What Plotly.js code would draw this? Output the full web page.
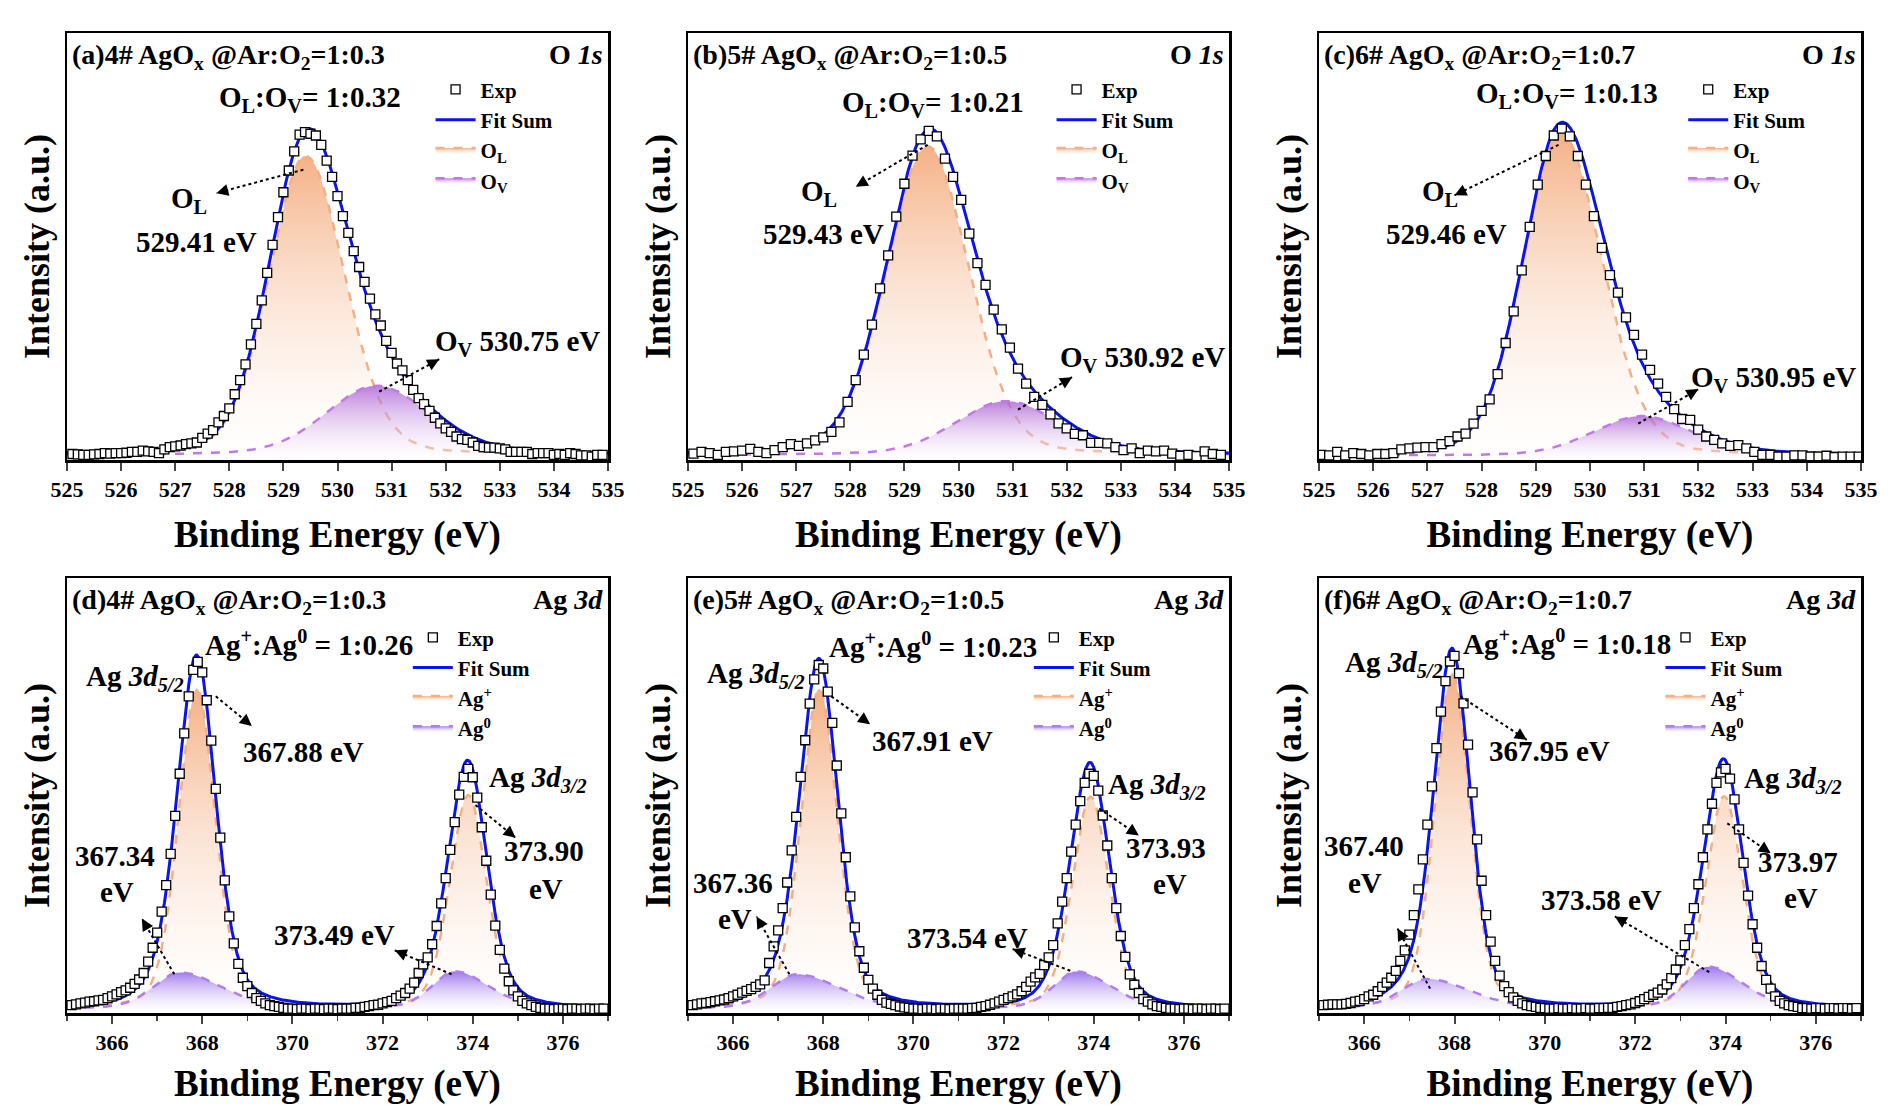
<!DOCTYPE html>
<html><head><meta charset="utf-8">
<script src="https://cdn.plot.ly/plotly-3.0.1.min.js"></script>
<style>body{margin:0;background:#fff}#g{width:1889px;height:1105px}</style>
</head><body><div id="g"></div>
<script>
// ---------- DATA ----------
// O 1s experimental points
const a_expStart = 525.1, a_expStep = 0.1;
const a_exp = [1.4,1.3,1.2,1.2,1.3,1.4,1.6,1.5,1.6,1.6,1.7,1.9,1.9,2.2,2.0,1.9,1.6,2.5,3.0,3.2,3.4,3.7,3.9,4.1,5.2,6.2,7.0,8.8,
10.3,12.1,15.4,18.7,22.4,27.1,31.9,37.4,43.8,50.4,56.9,62.7,67.8,72.3,76.2,76.8,76.4,76.0,73.8,70.1,66.3,61.8,57.1,53.2,48.9,45.2,41.7,37.8,34.1,31.5,27.9,25.1,22.6,21.0,18.7,16.4,14.5,13.1,11.5,9.9,8.6,7.4,6.6,5.5,4.9,4.7,4.1,3.3,3.0,2.9,2.9,2.7,2.5,1.9,1.9,1.9,1.9,1.4,1.6,1.6,1.6,1.2,1.4,1.2,1.6,1.4,1.1,1.1,0.8,1.2,1.2];
const b_expStart = 525.1, b_expStep = 0.15;
const b_exp = [1.5,1.9,1.6,1.2,1.9,2.0,2.2,2.6,1.9,1.6,2.3,3.0,3.7,3.3,3.9,4.6,5.3,6.6,8.8,
13.6,18.7,24.7,31.7,40.2,47.9,57.0,64.7,71.3,75.1,77.1,75.8,70.6,66.3,60.9,53.0,46.1,41.0,35.2,30.6,26.3,21.4,17.9,14.8,12.9,10.7,8.6,7.4,6.1,5.8,4.0,4.0,3.9,3.0,2.3,2.7,1.6,
2.2,2.0,2.2,1.5,1.0,1.2,0.9,2.0,1.4,1.2];
const c_expStart = 525.04, c_expStep = 0.148;
const c_exp = [1.2,1.1,1.9,1.1,1.6,1.4,1.1,1.4,1.4,1.6,2.5,2.7,2.9,3.0,3.0,3.7,4.4,5.5,6.2,8.5,11.5,14.2,20.1,27.4,34.8,44.4,54.6,64.5,71.2,76.0,77.6,75.8,71.2,64.5,57.1,49.7,43.3,39.2,33.4,29.3,24.7,21.1,17.9,14.8,11.9,9.6,9.4,7.1,5.5,4.7,3.9,3.3,3.5,2.7,1.9,1.2,1.2,0.8,0.8,1.1,1.1,0.8,0.8,1.0,0.7,0.8,0.8,0.8];
// Ag 3d experimental points (start 365.1, step 0.1)
const d_expStart = 365.1, d_expStep = 0.1;
const d_exp = [1.8,2.0,2.2,2.4,2.6,2.7,2.9,3.0,3.4,3.8,4.3,4.8,5.2,5.8,6.7,7.7,9.2,11.8,15.0,18.5,23.3,29.4,36.6,45.3,55.0,64.3,72.8,78.9,80.7,78.3,71.9,62.6,51.5,40.3,30.5,22.2,16.0,11.3,8.1,6.2,4.6,3.4,2.8,2.2,1.8,1.6,1.4,1.2,1.0,
1.0,0.9,1.0,1.0,0.9,1.0,1.0,0.9,1.0,1.0,0.9,1.0,1.0,
1.0,1.2,1.2,1.4,1.6,1.8,1.9,2.2,2.5,2.8,3.4,4.0,4.6,5.6,7.0,9.2,11.2,12.8,15.8,20.0,25.2,31.0,37.5,43.9,50.2,54.3,56.1,54.2,49.5,42.7,35.0,27.2,20.1,14.5,10.2,7.3,5.2,3.8,2.8,2.2,1.8,1.4,1.2,1.0,
1.0,0.9,1.0,1.0,0.9,1.0,1.0,0.9,1.0,1.0,0.9,1.0,1.0];
const e_expStart = 365.1, e_expStep = 0.1;
const e_exp = [1.8,2.0,2.2,2.3,2.5,2.7,2.9,3.1,3.4,3.8,4.2,4.7,5.1,5.5,6.0,6.6,7.5,11.5,15.3,19.0,24.1,30.0,37.4,45.1,54.3,62.7,71.1,76.7,80.0,79.2,73.9,66.7,56.9,45.9,35.8,26.8,19.7,14.2,10.4,7.6,5.6,4.2,3.0,2.4,2.1,1.8,1.5,1.3,1.2,
1.0,1.0,0.9,1.0,1.0,0.9,1.0,1.0,0.9,1.0,1.0,1.0,1.0,
1.1,1.2,1.4,1.6,1.9,2.2,2.6,3.0,3.4,3.8,4.3,5.0,6.0,7.2,8.2,9.0,11.0,12.8,15.6,20.6,25.6,31.0,37.1,43.3,48.7,52.9,55.0,54.5,51.1,45.4,38.5,31.0,24.1,17.7,12.9,8.9,6.5,4.6,3.2,2.6,2.0,1.6,1.4,1.2,
1.0,1.0,0.9,1.0,1.0,0.9,1.0,1.0,0.9,1.0,1.0,0.9,1.0];
const f_expStart = 365.1, f_expStep = 0.1;
const f_exp = [1.8,1.9,2.0,2.0,2.0,2.1,2.3,2.6,2.8,3.2,3.8,4.2,5.0,6.0,7.0,8.1,9.7,12.0,14.4,18.0,22.5,28.4,35.3,43.3,52.1,60.9,69.3,76.3,80.8,82.1,78.1,71.2,61.7,50.7,39.9,30.4,22.5,16.4,12.0,8.6,6.2,4.8,3.6,2.8,2.2,1.8,1.6,1.4,1.2,
1.1,1.0,1.0,1.1,1.0,1.0,1.1,1.0,1.0,1.1,1.0,1.0,1.1,
1.1,1.2,1.2,1.4,1.6,1.8,2.0,2.3,2.7,3.2,3.7,4.2,4.7,5.4,6.6,8.0,10.0,12.1,15.6,19.3,24.1,29.6,35.8,42.2,48.1,52.9,55.3,56.1,53.9,49.1,42.2,34.5,27.0,20.4,15.0,10.8,7.6,5.6,3.8,2.8,2.2,1.8,1.6,1.4,
1.1,1.1,1.0,1.1,1.1,1.0,1.1,1.1,1.0,1.1,1.1,1.0,1.1];

// fitted components: [centre eV, height, left half-width, right half-width, Lorentz fraction]
const a_OL = [529.41, 70.0, 0.80, 0.85, 0.15], a_OV = [530.72, 16.2, 1.10, 1.15, 0.2], a_bg = 1.2;
const b_OL = [529.43, 72.3, 0.90, 0.90, 0.15], b_OV = [530.88, 12.6, 1.10, 1.15, 0.2], b_bg = 1.2;
const c_OL = [529.46, 75.6, 0.82, 0.90, 0.15], c_OV = [530.95,  9.3, 1.05, 1.10, 0.2], c_bg = 1.0;
const d_AgP = [[367.88, 73.6, 0.48, 0.48, 0.25], [373.90, 49.1, 0.48, 0.48, 0.25]];
const d_Ag0 = [[367.50, 8.4, 0.70, 1.10, 0.3], [373.60, 8.6, 0.60, 0.90, 0.3]], d_bg = 0.9;
const e_AgP = [[367.91, 73.6, 0.48, 0.48, 0.25], [373.93, 48.7, 0.48, 0.48, 0.25]];
const e_Ag0 = [[367.42, 8.0, 0.70, 1.10, 0.3], [373.61, 8.6, 0.60, 0.90, 0.3]], e_bg = 0.9;
const f_AgP = [[367.95, 77.1, 0.46, 0.46, 0.25], [373.97, 48.7, 0.48, 0.48, 0.25]];
const f_Ag0 = [[367.40, 6.8, 0.70, 1.10, 0.3], [373.62, 9.6, 0.60, 0.90, 0.3]], f_bg = 1.0;

const titlesTop = ['(a)4# AgO<sub>x</sub> @Ar:O<sub>2</sub>=1:0.3','(b)5# AgO<sub>x</sub> @Ar:O<sub>2</sub>=1:0.5','(c)6# AgO<sub>x</sub> @Ar:O<sub>2</sub>=1:0.7'];
const titlesBot = ['(d)4# AgO<sub>x</sub> @Ar:O<sub>2</sub>=1:0.3','(e)5# AgO<sub>x</sub> @Ar:O<sub>2</sub>=1:0.5','(f)6# AgO<sub>x</sub> @Ar:O<sub>2</sub>=1:0.7'];
const ratiosTop = ['O<sub>L</sub>:O<sub>V</sub>= 1:0.32','O<sub>L</sub>:O<sub>V</sub>= 1:0.21','O<sub>L</sub>:O<sub>V</sub>= 1:0.13'];
const ratiosBot = ['Ag<sup>+</sup>:Ag<sup>0</sup> = 1:0.26','Ag<sup>+</sup>:Ag<sup>0</sup> = 1:0.23','Ag<sup>+</sup>:Ag<sup>0</sup> = 1:0.18'];
const olLabels = ['529.41 eV','529.43 eV','529.46 eV'];
const ovLabels = ['530.75 eV','530.92 eV','530.95 eV'];
const ag52Labels = ['367.88 eV','367.91 eV','367.95 eV'];
const ag0aLabels = ['367.34','367.36','367.40'];
const ag32Labels = ['373.90','373.93','373.97'];
const ag0bLabels = ['373.49 eV','373.54 eV','373.58 eV'];
const o1sTicks = [525,526,527,528,529,530,531,532,533,534,535];
const ag3dTicks = [366,368,370,372,374,376];

// ---------- layout helpers ----------
const W=1889,H=1105;
const colPx = [[67,608],[688,1229],[1319,1861]];
const rowPx = [[33,460],[578,1013]];
const FONT = 'Liberation Serif, Times New Roman, serif';
const FS = 29;
function pv(x,p){const hw = x<p[0]?p[2]:p[3]; const u=(x-p[0])/hw; return p[1]*((1-p[4])*Math.exp(-Math.LN2*u*u)+p[4]/(1+u*u));}
function grid(a,b,s){const r=[];for(let v=a;v<=b+1e-9;v+=s)r.push(+v.toFixed(4));return r;}

const traces=[], annotations=[], shapes=[];
const layout={width:W,height:H,margin:{l:0,r:0,t:0,b:0},paper_bgcolor:'#fff',plot_bgcolor:'#fff',
  font:{family:FONT,color:'#000',weight:'bold'},showlegend:true,annotations,shapes};

const orange='rgba(245,175,130,1)', orangeFill=[[0,'rgba(255,255,255,0.2)'],[1,'rgba(243,163,112,0.85)']];
const violet='rgba(196,120,230,1)', violetFill=[[0,'rgba(255,255,255,0.2)'],[1,'rgba(165,85,210,0.75)']];
const blueviolet='rgba(176,124,245,1)', bvFill=[[0,'rgba(255,255,255,0.2)'],[1,'rgba(135,85,235,0.8)']];

function addPanel(idx,row,col,xr,ticks,minor,exp,expStart,expStep,comps,bg,names,colors){
  const n=idx+1, xa='x'+(n===1?'':n), ya='y'+(n===1?'':n), lg='legend'+(n===1?'':n);
  const [x0,x1]=colPx[col],[y0,y1]=rowPx[row];
  layout['xaxis'+(n===1?'':n)]={domain:[x0/W,x1/W],anchor:ya,range:xr,tickvals:ticks,ticks:'outside',ticklen:8,tickwidth:2,
    minor:minor?{dtick:1,ticks:'outside',ticklen:5,tickwidth:1.5}:undefined,
    showline:true,mirror:true,linewidth:2.5,linecolor:'#000',showgrid:false,zeroline:false,
    tickfont:{size:22,family:FONT,weight:'bold'},
    title:{text:'Binding Energy (eV)',font:{size:37,family:FONT,weight:'bold'},standoff:20}};
  layout['yaxis'+(n===1?'':n)]={domain:[1-y1/H,1-y0/H],anchor:xa,range:[0,100],showticklabels:false,ticks:'',
    showline:true,mirror:true,linewidth:2.5,linecolor:'#000',showgrid:false,zeroline:false,
    title:{text:'Intensity (a.u.)',font:{size:36,family:FONT,weight:'bold'},standoff:4}};
  const xs=grid(xr[0],xr[1],0.02);
  const compY = comps.map(list=>xs.map(x=>bg+list.reduce((s,p)=>s+pv(x,p),0)));
  const sum = xs.map((x,i)=>bg+comps.reduce((s,list)=>s+list.reduce((t,p)=>t+pv(x,p),0),0));
  const ex = exp.map((v,i)=>+(expStart+i*expStep).toFixed(3));
  comps.forEach((list,k)=>{
    traces.push({type:'scatter',mode:'lines',x:xs,y:compY[k],xaxis:xa,yaxis:ya,legend:lg,name:names[k],
      line:{color:colors[k][0],dash:'dash',width:2.5},fill:'tozeroy',
      fillgradient:{type:'vertical',colorscale:colors[k][1]},legendrank:3+k});
  });
  traces.push({type:'scatter',mode:'lines',x:xs,y:sum,xaxis:xa,yaxis:ya,legend:lg,name:'Fit Sum',
    line:{color:'#0a14f0',width:3},legendrank:2});
  traces.push({type:'scatter',mode:'markers',x:ex,y:exp,xaxis:xa,yaxis:ya,legend:lg,name:'Exp',
    marker:{symbol:'square',size:9,color:'#fff',line:{color:'#000',width:1.3}},legendrank:1});
  return {xa,ya,lg,x0,x1,y0,y1,xr};
}

function arrow(p,xs,ys){
  shapes.push({type:'line',xref:p.xa,yref:p.ya,x0:xs[0],y0:ys[0],x1:xs[1],y1:ys[1],line:{color:'#000',width:2,dash:'dot'}});
  const sx=(p.x1-p.x0)/(p.xr[1]-p.xr[0]), sy=(p.y1-p.y0)/100;
  const dx=(xs[1]-xs[0])*sx, dy=-(ys[1]-ys[0])*sy, L=Math.hypot(dx,dy);
  annotations.push({xref:p.xa,yref:p.ya,x:xs[1],y:ys[1],text:'',showarrow:true,arrowhead:2,arrowsize:1.2,arrowwidth:2,arrowcolor:'#000',
    ax:-dx/L*12,ay:-dy/L*12});
}
function txt(p,x,y,t,size,opt){annotations.push(Object.assign({xref:p.xa,yref:p.ya,x,y,text:t,showarrow:false,font:{size:size||FS,family:FONT,weight:'bold'}},opt||{}));}
function legendFor(p,lg,rx,ry){
  layout[lg]={x:(p.x0+(p.x1-p.x0)*rx)/W,y:1-(p.y0+(p.y1-p.y0)*ry)/H,xanchor:'left',yanchor:'top',
    bgcolor:'rgba(0,0,0,0)',font:{size:21,family:FONT,weight:'bold'},tracegroupgap:0,itemwidth:40};
}

// ---- O 1s row ----
const Oexp=[[a_exp,a_expStart,a_expStep],[b_exp,b_expStart,b_expStep],[c_exp,c_expStart,c_expStep]];
const Ocomp=[[a_OL,a_OV,a_bg],[b_OL,b_OV,b_bg],[c_OL,c_OV,c_bg]];
const Oann=[
  {r:[529.5,84.5],ol:[527.25,61],ole:[527.4,51],a1:[[529.37,527.76],[68,62.5]],ov:[533.33,27.3],a2:[[530.77,531.88],[16,23.6]]},
  {r:[529.52,83.4],ol:[527.43,62.5],ole:[527.5,53],a1:[[529.43,528.1],[73.8,64]],ov:[533.4,23.7],a2:[[531.1,532.1],[11.8,19.4]]},
  {r:[529.57,85.4],ol:[527.24,62.5],ole:[527.35,53],a1:[[529.42,527.5],[73.8,62]],ov:[533.38,18.9],a2:[[530.89,532.0],[8.5,16.6]]}];
for(let i=0;i<3;i++){
  const [e,s,st]=Oexp[i],[ol,ov,bg]=Ocomp[i];
  const p=addPanel(i,0,i,[525,535],o1sTicks,false,e,s,st,[[ol],[ov]],bg,['O<sub>L</sub>','O<sub>V</sub>'],[[orange,orangeFill],[violet,violetFill]]);
  legendFor(p,p.lg,0.672,0.085);
  txt(p,525.05,99,titlesTop[i],28,{xanchor:'left',yanchor:'top'});
  txt(p,534.95,99,'O <i>1s</i>',28,{xanchor:'right',yanchor:'top'});
  const A=Oann[i];
  txt(p,A.r[0],A.r[1],ratiosTop[i],FS);
  txt(p,A.ol[0],A.ol[1],'O<sub>L</sub>',FS);
  txt(p,A.ole[0],A.ole[1],olLabels[i],FS);
  txt(p,A.ov[0],A.ov[1],'O<sub>V</sub> '+ovLabels[i],FS);
  arrow(p,A.a1[0],A.a1[1]); arrow(p,A.a2[0],A.a2[1]);
}
// ---- Ag 3d row ----
const Aexp=[[d_exp,d_expStart,d_expStep],[e_exp,e_expStart,e_expStep],[f_exp,f_expStart,f_expStep]];
const Acomp=[[d_AgP,d_Ag0,d_bg],[e_AgP,e_Ag0,e_bg],[f_AgP,f_Ag0,f_bg]];
const Aann=[
  {r:[370.37,85],l52:[366.5,77],v52:[370.24,60],a1:[[368.3,369.1],[72.8,66]],v0a:[366.07,36],e0a:[366.1,27.8],a2:[[367.38,366.66],[8.9,21.7]],
   l32:[375.45,53.9],v32:[375.59,37.2],e32:[375.62,28.6],a3:[[374.06,374.95],[47.8,40.3]],v0b:[370.94,18],a4:[[373.53,372.27],[8.9,14.4]]},
  {r:[370.43,84.7],l52:[366.5,77.8],v52:[370.43,62.5],a1:[[368.18,369.04],[72.8,66.4]],v0a:[365.99,30],e0a:[366.05,21.7],a2:[[367.25,366.52],[8.9,22.2]],
   l32:[375.4,52.2],v32:[375.6,38],e32:[375.7,29.7],a3:[[374.12,375.0],[47,40.8]],v0b:[371.2,17.2],a4:[[373.48,372.2],[9.7,14.7]]},
  {r:[370.48,85.3],l52:[366.66,80.3],v52:[370.1,60.3],a1:[[368.13,369.6],[72.8,62.8]],v0a:[365.99,38.3],e0a:[366.02,30],a2:[[367.46,366.74],[5.6,19.4]],
   l32:[375.5,53.6],v32:[375.6,34.7],e32:[375.68,26.4],a3:[[374.04,375.0],[43.6,36.7]],v0b:[371.26,26],a4:[[373.64,371.55],[9.4,22.2]]}];
for(let i=0;i<3;i++){
  const [e,s,st]=Aexp[i],[ap,a0,bg]=Acomp[i];
  const p=addPanel(3+i,1,i,[365,377],ag3dTicks,true,e,s,st,[ap,a0],bg,['Ag<sup>+</sup>','Ag<sup>0</sup>'],[[orange,orangeFill],[blueviolet,bvFill]]);
  legendFor(p,p.lg,0.63,0.09);
  txt(p,365.06,99,titlesBot[i],28,{xanchor:'left',yanchor:'top'});
  txt(p,376.94,99,'Ag <i>3d</i>',28,{xanchor:'right',yanchor:'top'});
  const A=Aann[i];
  txt(p,A.r[0],A.r[1],ratiosBot[i],FS);
  txt(p,A.l52[0],A.l52[1],'Ag <i>3d</i><sub><i>5/2</i></sub>',FS);
  txt(p,A.v52[0],A.v52[1],ag52Labels[i],FS);
  txt(p,A.v0a[0],A.v0a[1],ag0aLabels[i],FS);
  txt(p,A.e0a[0],A.e0a[1],'eV',FS);
  txt(p,A.l32[0],A.l32[1],'Ag <i>3d</i><sub><i>3/2</i></sub>',FS);
  txt(p,A.v32[0],A.v32[1],ag32Labels[i],FS);
  txt(p,A.e32[0],A.e32[1],'eV',FS);
  txt(p,A.v0b[0],A.v0b[1],ag0bLabels[i],FS);
  arrow(p,A.a1[0],A.a1[1]); arrow(p,A.a2[0],A.a2[1]); arrow(p,A.a3[0],A.a3[1]); arrow(p,A.a4[0],A.a4[1]);
}
Plotly.newPlot('g',traces,layout,{staticPlot:true});
</script></body></html>
